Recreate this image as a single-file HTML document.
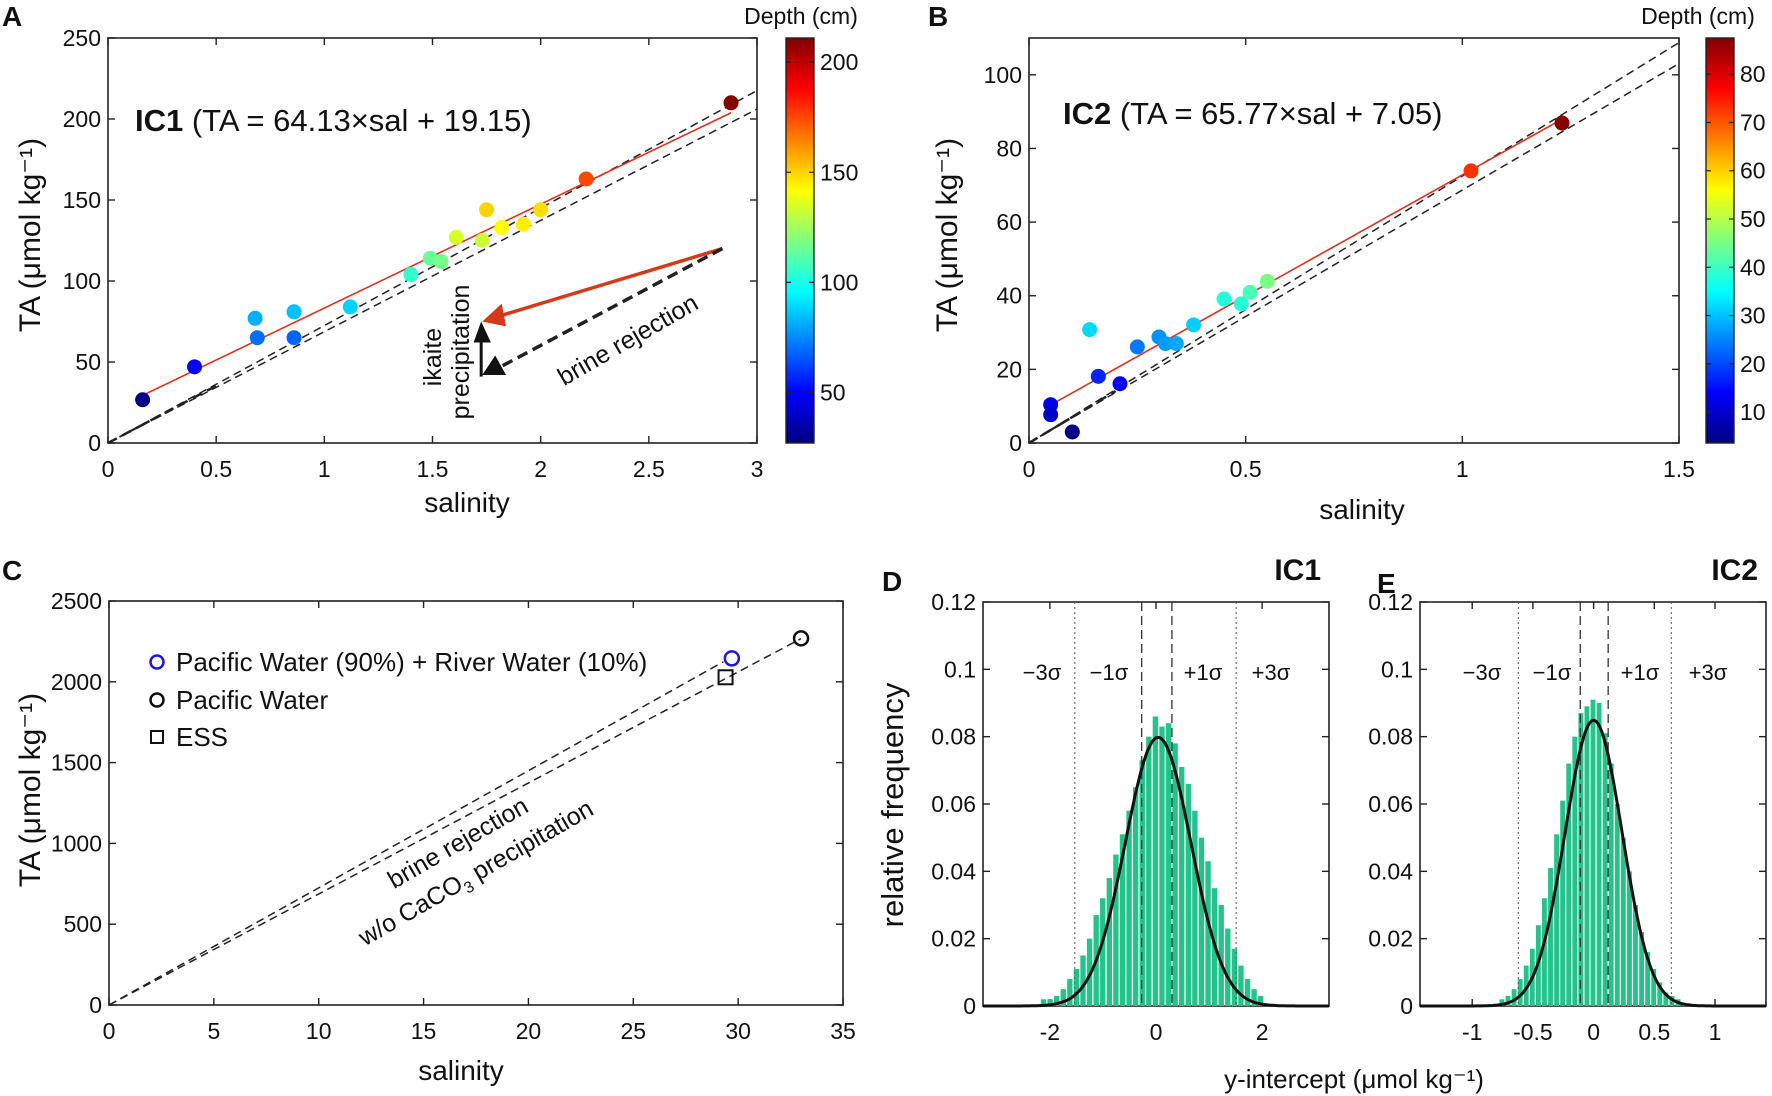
<!DOCTYPE html>
<html><head><meta charset="utf-8"><style>
html,body{margin:0;padding:0;background:#fff;}
svg{display:block;font-family:"Liberation Sans",Arial,sans-serif;}
</style></head><body>
<svg id="fig" xmlns="http://www.w3.org/2000/svg" width="1772" height="1096" viewBox="0 0 1772 1096">
<defs>
<linearGradient id="jetgrad" x1="0" y1="1" x2="0" y2="0">
<stop offset="0" stop-color="#000080"/><stop offset="0.125" stop-color="#0000ff"/><stop offset="0.375" stop-color="#00ffff"/><stop offset="0.625" stop-color="#ffff00"/><stop offset="0.875" stop-color="#ff0000"/><stop offset="1" stop-color="#800000"/>
</linearGradient>
</defs>
</svg>
<script>
// ---------- data ----------
const A_sal=[0.16,0.40,0.68,0.69,0.86,0.86,1.12,1.40,1.49,1.54,1.61,1.73,1.75,1.82,1.92,2.00,2.21,2.88];
const A_ta=[26.7,47,77,65,81,65,84,104,114,112,127,125,144,133,135,144,163,210];
const A_depth=[28,48,82,70,85,68,88,105,115,117,135,132,150,142,145,148,175,210];
const A_fit=[64.13,19.15];
const B_sal=[0.05,0.05,0.10,0.14,0.16,0.21,0.25,0.30,0.315,0.34,0.38,0.45,0.49,0.51,0.55,1.02,1.23];
const B_ta=[10.4,7.7,3.0,30.8,18.1,16.1,26.1,28.8,27.0,27.0,32.1,39.1,37.8,40.9,43.9,73.9,86.9];
const B_depth=[12,10,4,32,17,14,24,26,27,28,31,38,38,41,45,73,87];
const B_fit=[65.77,7.05];
const brineSlopes=[72.5,68.7];
const C_names=["Pacific Water (90%) + River Water (10%)","Pacific Water","ESS"];
const C_sal=[29.7,33.0,29.4];
const C_ta=[2145,2269,2028];
const C_lineEnd=[29.3,33.0];
const D_start=-2.108, D_bw=0.124;
const D_freq=[0.002,0.002,0.003,0.005,0.008,0.011,0.015,0.020,0.027,0.032,0.038,0.045,0.051,0.058,0.065,0.073,0.080,0.086,0.083,0.084,0.078,0.071,0.066,0.058,0.050,0.043,0.035,0.030,0.023,0.017,0.012,0.008,0.005,0.003];
const D_norm=[0.04,0.62];
const D_sigLines=[-1.53,-0.27,0.30,1.51];
const E_start=-0.75, E_bw=0.05;
const E_freq=[0.002,0.003,0.005,0.008,0.012,0.017,0.024,0.032,0.041,0.051,0.061,0.072,0.080,0.087,0.089,0.091,0.090,0.081,0.072,0.060,0.050,0.040,0.030,0.022,0.016,0.011,0.007,0.004,0.003,0.002,0.001];
const E_norm=[0.0,0.235];
const E_sigLines=[-0.62,-0.11,0.12,0.64];
const sigLabels=["\u22123\u03c3","\u22121\u03c3","+1\u03c3","+3\u03c3"];

// ---------- helpers ----------
const svg=document.getElementById('fig');
const NS="http://www.w3.org/2000/svg";
function mk(tag,attrs,parent){const e=document.createElementNS(NS,tag);for(const k in attrs)e.setAttribute(k,attrs[k]);(parent||svg).appendChild(e);return e;}
function txt(s,x,y,size,opts,parent){opts=opts||{};const e=mk('text',{x:x,y:y,'font-size':size,'text-anchor':opts.anchor||'middle',fill:opts.fill||'#111'},parent);if(opts.bold)e.setAttribute('font-weight','bold');if(opts.rot!==undefined)e.setAttribute('transform','rotate('+opts.rot+' '+x+' '+y+')');if(opts.italic)e.setAttribute('font-style','italic');e.textContent=s;return e;}
function jet(t){t=Math.max(0,Math.min(1,t));const c=v=>Math.round(255*Math.max(0,Math.min(1,v)));return 'rgb('+c(1.5-Math.abs(4*t-3))+','+c(1.5-Math.abs(4*t-2))+','+c(1.5-Math.abs(4*t-1))+')';}
function axes(b){
  const sx=v=>b.x0+(v-b.xmin)/(b.xmax-b.xmin)*(b.x1-b.x0);
  const sy=v=>b.y1-(v-b.ymin)/(b.ymax-b.ymin)*(b.y1-b.y0);
  const g=mk('g',{});
  
  
  const fr=mk('rect',{x:b.x0,y:b.y0,width:b.x1-b.x0,height:b.y1-b.y0,fill:'none',stroke:'#222','stroke-width':1.6},g);
  
  
  b.xt.forEach((v,i)=>{const x=sx(v);
    mk('line',{x1:x,x2:x,y1:b.y1,y2:b.y1-7,stroke:'#222','stroke-width':1.4},g);
    mk('line',{x1:x,x2:x,y1:b.y0,y2:b.y0+7,stroke:'#222','stroke-width':1.4},g);
    const t=txt(b.xl[i],x,b.y1+34,23,{},g);
    
    });
  b.yt.forEach((v,i)=>{const y=sy(v);
    mk('line',{x1:b.x0,x2:b.x0+7,y1:y,y2:y,stroke:'#222','stroke-width':1.4},g);
    mk('line',{x1:b.x1,x2:b.x1-7,y1:y,y2:y,stroke:'#222','stroke-width':1.4},g);
    const t=txt(b.yl[i],b.x0-7,y+8,23,{anchor:'end'},g);
    
    });
  return {sx,sy,g};
}
function dashedLine(x1,y1,x2,y2,name,w,da){const l=mk('line',{x1,y1,x2,y2,stroke:'#222','stroke-width':w||1.5,'stroke-dasharray':da||'8,5'});return l;}
function colorbar(x,y0,y1,cmin,cmax,ticks,name){
  const r=mk('rect',{x:x,y:y0,width:28,height:y1-y0,fill:'url(#jetgrad)',stroke:'#222','stroke-width':1.4});
  
  
  ticks.forEach(v=>{const y=y1-(v-cmin)/(cmax-cmin)*(y1-y0);
    mk('line',{x1:x,x2:x+5,y1:y,y2:y,stroke:'#222','stroke-width':1.2});
    mk('line',{x1:x+28,x2:x+23,y1:y,y2:y,stroke:'#222','stroke-width':1.2});
    const t=txt(String(v),x+34,y+8,23,{anchor:'start'});
    
    });
}
function scatter(ax,xs,ys,ds,cmin,cmax,name){
  xs.forEach((v,i)=>{const c=mk('circle',{cx:ax.sx(v),cy:ax.sy(ys[i]),r:7.5,fill:jet((ds[i]-cmin)/(cmax-cmin))});
    
    });
}
function fitLine(ax,xs,fit,name){
  const a=Math.min(...xs),b=Math.max(...xs);
  const l=mk('line',{x1:ax.sx(a),y1:ax.sy(fit[0]*a+fit[1]),x2:ax.sx(b),y2:ax.sy(fit[0]*b+fit[1]),stroke:'#e0301e','stroke-width':1.6});
  
  
}
function letter(s,x,y){const t=txt(s,x,y,28,{bold:true,anchor:'start'});}

// ---------- Panel A ----------
letter('A',2,26);
const A=axes({name:'panel-a',x0:108,x1:757,y0:38,y1:443,xmin:0,xmax:3,ymin:0,ymax:250,xt:[0,0.5,1,1.5,2,2.5,3],xl:['0','0.5','1','1.5','2','2.5','3'],yt:[0,50,100,150,200,250],yl:['0','50','100','150','200','250']});
brineSlopes.forEach(s=>dashedLine(A.sx(0),A.sy(0),A.sx(3),A.sy(3*s),'panel-a-brine-line'));
dashedLine(A.sx(0),A.sy(0),A.sx(0.5),A.sy(0.5*70.6),'panel-a-brine-line-origin',2.5,'10,6');
fitLine(A,A_sal,A_fit,'panel-a-fit-line');
scatter(A,A_sal,A_ta,A_depth,27,211,'panel-a');
(function(){
  const sx=A.sx,sy=A.sy;
  const r=mk('line',{x1:sx(2.84),y1:sy(120),x2:sx(1.80),y2:sy(78),stroke:'#d43a1a','stroke-width':3.5});
  
  
  const p=mk('polygon',{points:[[sx(1.73),sy(75)],[sx(1.82),sy(86)],[sx(1.84),sy(72)]].map(q=>q.join(',')).join(' '),fill:'#d43a1a'});
  
  
  dashedLine(sx(2.84),sy(120),sx(1.80),sy(46),'brine-arrow',3.5,'11,6');
  const bh=mk('polygon',{points:[[sx(1.73),sy(42)],[sx(1.79),sy(54)],[sx(1.84),sy(42)]].map(q=>q.join(',')).join(' '),fill:'#111'});
  
  
  const v=mk('line',{x1:sx(1.725),y1:sy(41),x2:sx(1.725),y2:sy(66),stroke:'#111','stroke-width':3});
  
  
  const vh=mk('polygon',{points:[[sx(1.725),sy(75)],[sx(1.69),sy(62)],[sx(1.77),sy(62)]].map(q=>q.join(',')).join(' '),fill:'#111'});
  
  
})();
let t;
t=txt('ikaite',441,357,25,{rot:-90});
t=txt('precipitation',469,352,25,{rot:-90});
t=txt('brine rejection',632,347,25,{rot:-30});
t=mk('text',{x:135,y:131,'font-size':31,fill:'#111'});t.innerHTML='<tspan font-weight="bold">IC1</tspan> (TA = 64.13×sal + 19.15)';
t=txt('TA (μmol kg⁻¹)',40,235,30,{rot:-90});
t=txt('salinity',467,512,28);
colorbar(786,38,443,27,211,[50,100,150,200],'panel-a-colorbar');
t=txt('Depth (cm)',801,24,23);

// ---------- Panel B ----------
letter('B',928,26);
const B=axes({name:'panel-b',x0:1029,x1:1679,y0:38,y1:443,xmin:0,xmax:1.5,ymin:0,ymax:110,xt:[0,0.5,1,1.5],xl:['0','0.5','1','1.5'],yt:[0,20,40,60,80,100],yl:['0','20','40','60','80','100']});
brineSlopes.forEach(s=>dashedLine(B.sx(0),B.sy(0),B.sx(1.5),B.sy(1.5*s),'panel-b-brine-line'));
dashedLine(B.sx(0),B.sy(0),B.sx(0.2),B.sy(0.2*70.6),'panel-b-brine-line-origin',2.5,'10,6');
fitLine(B,B_sal,B_fit,'panel-b-fit-line');
scatter(B,B_sal,B_ta,B_depth,3.6,87.5,'panel-b');
t=mk('text',{x:1063,y:124,'font-size':31,fill:'#111'});t.innerHTML='<tspan font-weight="bold">IC2</tspan> (TA = 65.77×sal + 7.05)';
t=txt('TA (μmol kg⁻¹)',957,235,30,{rot:-90});
t=txt('salinity',1362,519,28);
colorbar(1706,38,443,3.6,87.5,[10,20,30,40,50,60,70,80],'panel-b-colorbar');
t=txt('Depth (cm)',1698,24,23);

// ---------- Panel C ----------
letter('C',2,580);
const C=axes({name:'panel-c',x0:109,x1:843,y0:601,y1:1005,xmin:0,xmax:35,ymin:0,ymax:2500,xt:[0,5,10,15,20,25,30,35],xl:['0','5','10','15','20','25','30','35'],yt:[0,500,1000,1500,2000,2500],yl:['0','500','1000','1500','2000','2500']});
C_lineEnd.forEach((e,i)=>dashedLine(C.sx(0),C.sy(0),C.sx(e),C.sy(e*brineSlopes[i]),'panel-c-brine-line'));
(function(){
  let m=mk('circle',{cx:C.sx(C_sal[0]),cy:C.sy(C_ta[0]),r:7,fill:'none',stroke:'#1a1adc','stroke-width':2.5});
  
  m=mk('circle',{cx:C.sx(C_sal[1]),cy:C.sy(C_ta[1]),r:7,fill:'none',stroke:'#111','stroke-width':2.5});
  
  m=mk('rect',{x:C.sx(C_sal[2])-7,y:C.sy(C_ta[2])-7,width:14,height:14,fill:'none',stroke:'#111','stroke-width':2});
  
  const lg=mk('g',{});
  m=mk('circle',{cx:157,cy:662,r:6.5,fill:'none',stroke:'#1a1adc','stroke-width':2.5},lg);
  
  m=mk('circle',{cx:157,cy:700,r:6.5,fill:'none',stroke:'#111','stroke-width':2.5},lg);
  
  m=mk('rect',{x:151,y:731,width:12,height:12,fill:'none',stroke:'#111','stroke-width':2},lg);
  
  [662,700,737].forEach((y,i)=>{const tt=txt(C_names[i],176,y+9,26,{anchor:'start'},lg);});
})();
t=txt('brine rejection',462,850,25,{rot:-30});
t=mk('text',{x:480,y:880,'font-size':25,'text-anchor':'middle',fill:'#111',transform:'rotate(-30 480 880)'});t.innerHTML='w/o CaCO<tspan font-size="16" dy="6">3</tspan><tspan dy="-6"> precipitation</tspan>';
t=txt('TA (μmol kg⁻¹)',40,790,30,{rot:-90});
t=txt('salinity',461,1080,28);

// ---------- Panels D, E ----------
function hist(name,box,start,bw,freq,norm,sig,title,tx){
  const H=axes(box);
  freq.forEach((f,i)=>{const c=start+i*bw;const x0=H.sx(c-bw/2),x1=H.sx(c+bw/2);
    const r=mk('rect',{x:x0,y:H.sy(f),width:Math.max(1,x1-x0-1.2),height:H.sy(0)-H.sy(f),fill:'#22c489'});
    
    });
  sig.forEach((v,i)=>{const outer=(i===0||i===3);
    const l=mk('line',{x1:H.sx(v),x2:H.sx(v),y1:box.y0,y2:box.y1,stroke:outer?'#555':'#333','stroke-width':outer?1:1.3,'stroke-dasharray':outer?'2,3':'9,5'});
    
    });
  let d='';const n=200;
  for(let k=0;k<=n;k++){const v=box.xmin+(box.xmax-box.xmin)*k/n;const y=bw/(norm[1]*Math.sqrt(2*Math.PI))*Math.exp(-0.5*Math.pow((v-norm[0])/norm[1],2));d+=(k?'L':'M')+H.sx(v).toFixed(1)+','+H.sy(y).toFixed(1);}
  const p=mk('path',{d:d,fill:'none',stroke:'#111','stroke-width':3});
  
  
  tx.forEach((x,i)=>{const tt=txt(sigLabels[i],x,680,22);});
  const tt=txt(title,box.x1-8,580,30,{bold:true,anchor:'end'});
}
letter('D',882,591);
hist('panel-d',{name:'panel-d',x0:983,x1:1329,y0:602,y1:1006,xmin:-3.26,xmax:3.26,ymin:0,ymax:0.12,xt:[-2,0,2],xl:['-2','0','2'],yt:[0,0.02,0.04,0.06,0.08,0.1,0.12],yl:['0','0.02','0.04','0.06','0.08','0.1','0.12']},D_start,D_bw,D_freq,D_norm,D_sigLines,'IC1',[1042,1109,1203,1271]);
letter('E',1377,593);
hist('panel-e',{name:'panel-e',x0:1420,x1:1766,y0:602,y1:1006,xmin:-1.43,xmax:1.42,ymin:0,ymax:0.12,xt:[-1,-0.5,0,0.5,1],xl:['-1','-0.5','0','0.5','1'],yt:[0,0.02,0.04,0.06,0.08,0.1,0.12],yl:['0','0.02','0.04','0.06','0.08','0.1','0.12']},E_start,E_bw,E_freq,E_norm,E_sigLines,'IC2',[1482,1552,1640,1708]);
t=txt('relative frequency',903,805,31,{rot:-90});
t=txt('y-intercept (μmol kg⁻¹)',1354,1088,26);
</script>
</body></html>
